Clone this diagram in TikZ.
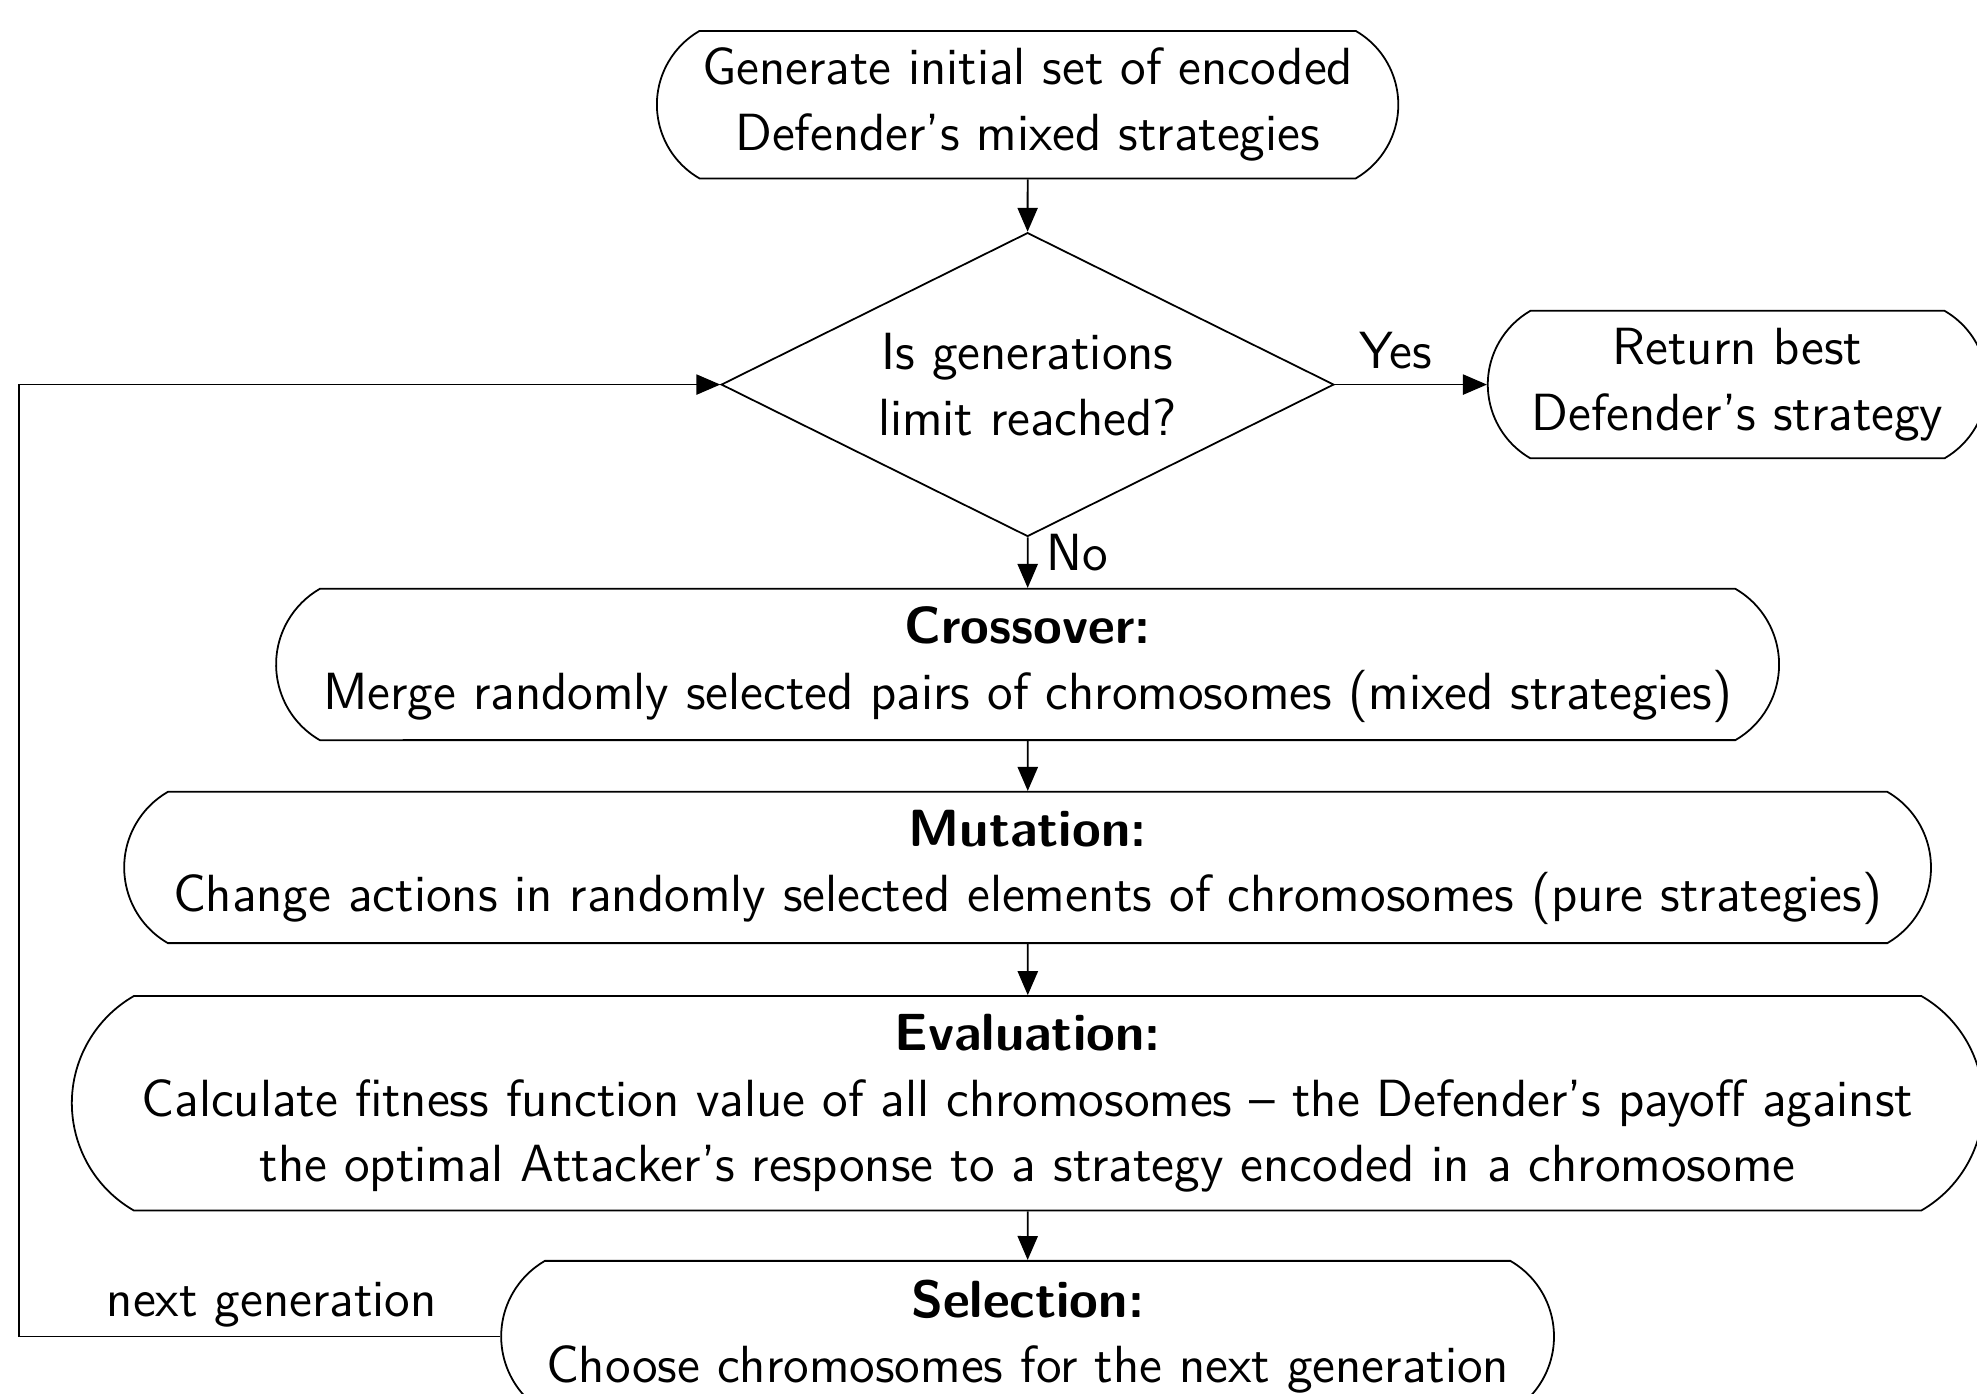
\documentclass[tikz,border=0pt]{standalone}
\usetikzlibrary{shapes.geometric,shapes.misc,arrows.meta}
\begin{document}
\begin{tikzpicture}[>={Triangle[length=1.9mm,width=1.6mm]}, thin]
        \tikzstyle{every node}=[font=\sffamily\fontsize{11.8}{14.8}\selectfont, align=center]
        \tikzstyle{stage}=[draw, rounded rectangle, rounded rectangle arc length=120, inner sep=0pt, minimum height=12mm]
        \tikzstyle{decision}=[draw, diamond, aspect=2, inner sep=0pt, minimum width=48.6mm, minimum height=24.1mm]
        \useasboundingbox (0,0) rectangle (15.68,-11.05);
        \node[stage, minimum width=58.8mm, minimum height=11.7mm] (init) at (8.15,-0.83) {Generate initial set of encoded\\Defender's mixed strategies};
        \node[decision] (limit) at (8.15,-3.05) {Is generations\\limit reached?};
        \node[stage, minimum width=39.6mm, minimum height=11.7mm] (best) at (13.78,-3.05) {Return best\\Defender's strategy};
        \node[stage, minimum width=119.2mm] (cross) at (8.15,-5.27) {\textbf{Crossover:}\\Merge randomly selected pairs of chromosomes (mixed strategies)};
        \node[stage, minimum width=143.3mm] (mut) at (8.15,-6.88) {\textbf{Mutation:}\\Change actions in randomly selected elements of chromosomes (pure strategies)};
        \node[stage, minimum width=151.6mm, minimum height=17mm] (eval) at (8.15,-8.75) {\textbf{Evaluation:}\\Calculate fitness function value of all chromosomes -- the Defender's payoff against\\the optimal Attacker's response to a strategy encoded in a chromosome};
        \node[stage, minimum width=83.5mm] (sel) at (8.15,-10.6) {\textbf{Selection:}\\Choose chromosomes for the next generation};
        \coordinate (loop) at (0.15,0);
        \draw[->] (init) -- (limit);
        \draw[->] (limit) -- node[above, pos=0.4] {Yes} (best);
        \draw[->] (limit) -- node[right, pos=0.3, inner sep=4pt] {No} (cross);
        \draw[->] (cross) -- (mut);
        \draw[->] (mut) -- (eval);
        \draw[->] (eval) -- (sel);
        \draw[->] (sel.west) -- node[above, pos=0.475, inner sep=2pt] {next generation} (sel.west -| loop) |- (limit.west);
    \end{tikzpicture}
\end{document}
